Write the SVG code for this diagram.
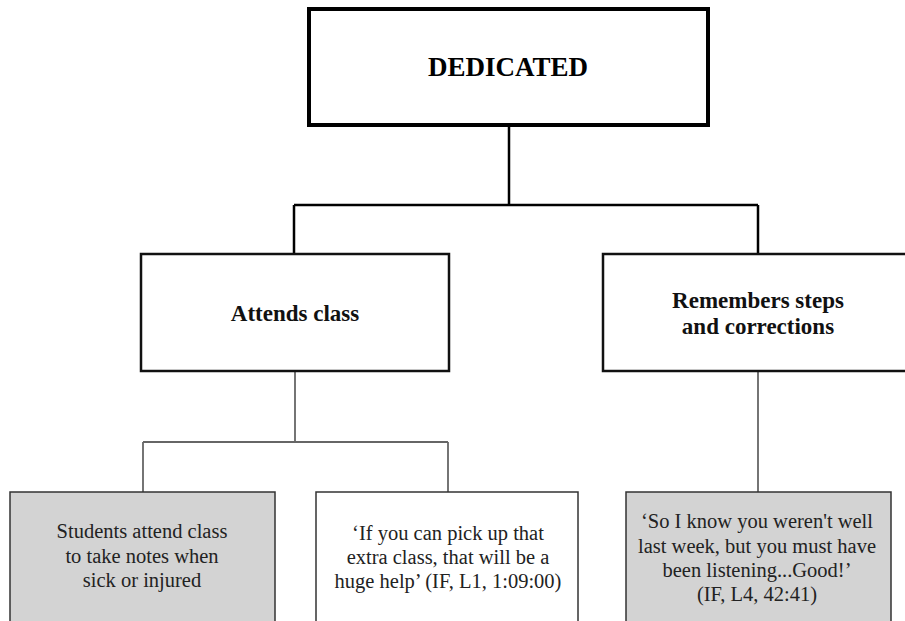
<svg xmlns="http://www.w3.org/2000/svg" width="905" height="621" viewBox="0 0 905 621">
  <style>
    .root { fill: #ffffff; stroke: #000000; stroke-width: 4; }
    .mid { fill: #ffffff; stroke: #111111; stroke-width: 2.5; }
    .leaf { stroke: #333333; stroke-width: 1.5; }
    .grey { fill: #d3d3d3; }
    .white { fill: #ffffff; }
    .link-top { fill: none; stroke: #000000; stroke-width: 2.5; }
    .link-low { fill: none; stroke: #666666; stroke-width: 1.8; }
    text { font-family: 'Liberation Serif', 'DejaVu Serif', serif; text-anchor: middle; }
    .title { font-weight: bold; font-size: 27px; fill: #000; }
    .head { font-weight: bold; font-size: 23px; fill: #111; }
    .body { font-size: 20.5px; fill: #222; }
  </style>

  <rect width="905" height="621" fill="#ffffff"/>

  <g id="connectors">
    <path class="link-top" d="M509 125 V205 M294 205 H758 M294 205 V254 M758 205 V254"/>
    <path class="link-low" d="M295 371 V442 M143 442 H448 M143 442 V492 M448 442 V492 M758 371 V492"/>
  </g>

  <g id="dedicated">
    <rect class="root" x="309" y="9" width="399" height="116"/>
    <text class="title" x="508" y="76">DEDICATED</text>
  </g>

  <g id="attends-class">
    <rect class="mid" x="141" y="254" width="308" height="117"/>
    <text class="head" x="295" y="321">Attends class</text>
  </g>

  <g id="remembers-steps">
    <rect class="mid" x="603" y="254" width="320" height="117"/>
    <text class="head" x="758" y="308">Remembers steps</text>
    <text class="head" x="758" y="334">and corrections</text>
  </g>

  <g id="students-attend">
    <rect class="leaf grey" x="10" y="492" width="265" height="150"/>
    <text class="body" x="142" y="538">Students attend class</text>
    <text class="body" x="142" y="563">to take notes when</text>
    <text class="body" x="142" y="587">sick or injured</text>
  </g>

  <g id="extra-class-quote">
    <rect class="leaf white" x="316" y="492" width="262" height="150"/>
    <text class="body" x="448" y="540">‘If you can pick up that</text>
    <text class="body" x="448" y="564">extra class, that will be a</text>
    <text class="body" x="448" y="588">huge help’ (IF, L1, 1:09:00)</text>
  </g>

  <g id="listening-quote">
    <rect class="leaf grey" x="626" y="492" width="265" height="150"/>
    <text class="body" x="757" y="528">‘So I know you weren't well</text>
    <text class="body" x="757" y="553">last week, but you must have</text>
    <text class="body" x="757" y="577">been listening...Good!’</text>
    <text class="body" x="757" y="601">(IF, L4, 42:41)</text>
  </g>
</svg>
